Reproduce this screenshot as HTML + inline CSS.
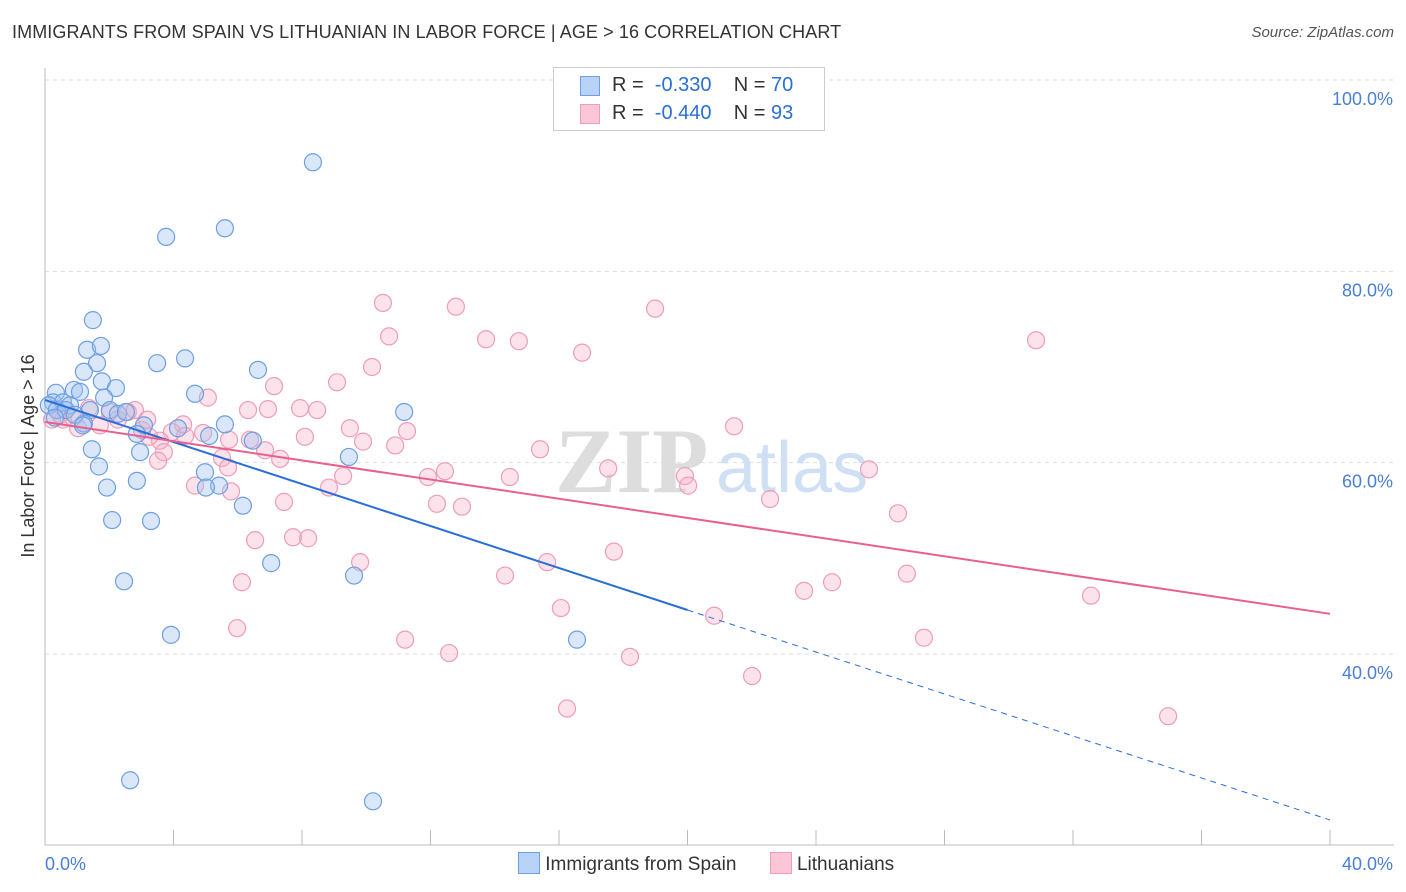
<!DOCTYPE html>
<html><head><meta charset="utf-8"><style>
body{margin:0;background:#fff;font-family:"Liberation Sans",sans-serif;}
#wrap{position:relative;width:1406px;height:892px;overflow:hidden}
</style></head><body>
<div id="wrap">
<div style="position:absolute;left:12px;top:22px;font-size:18px;color:#333;letter-spacing:0.1px">IMMIGRANTS FROM SPAIN VS LITHUANIAN IN LABOR FORCE | AGE &gt; 16 CORRELATION CHART</div>
<div style="position:absolute;right:12px;top:24px;font-size:15px;color:#555;font-style:italic">Source: ZipAtlas.com</div>
<svg id="svg" width="1406" height="892" style="position:absolute;left:0;top:0"></svg>
</div>
<script>
const blueX=[8.34,3.77,5.60,1.49,1.31,1.74,1.62,3.49,4.36,1.21,1.77,2.21,0.90,1.09,0.34,4.67,6.63,1.84,0.25,0.56,0.78,0.12,0.37,0.65,1.40,2.02,2.27,2.52,0.31,1.21,3.08,4.14,5.60,5.11,11.18,2.86,6.47,1.46,2.96,9.46,1.68,4.98,5.42,5.01,1.93,2.86,6.16,2.09,3.30,7.04,9.62,2.46,3.92,16.56,2.65,10.21,0.93,1.18];
const blueY=[91.4,83.6,84.5,74.9,71.8,72.2,70.4,70.4,70.9,69.5,68.5,67.8,67.6,67.4,67.3,67.2,69.7,66.8,66.3,66.3,66.0,66.0,65.5,65.5,65.5,65.5,65.1,65.3,64.7,64.1,63.9,63.6,64.0,62.8,65.3,63.0,62.3,61.4,61.1,60.6,59.6,59.0,57.6,57.4,57.4,58.1,55.5,54.0,53.9,49.5,48.2,47.6,42.0,41.5,26.8,24.6,65.0,63.9];
const pinkX=[10.52,12.79,18.99,30.85,13.73,14.75,10.71,16.72,10.18,9.09,7.13,5.07,6.32,6.94,7.94,8.47,0.56,2.02,2.58,1.37,0.47,0.87,4.30,3.95,4.92,5.73,6.38,3.58,8.09,9.49,11.27,9.90,10.90,15.41,21.45,3.24,4.36,5.51,6.85,7.32,3.70,3.52,5.70,12.45,11.92,14.47,17.53,19.92,20.02,25.65,8.84,9.28,4.67,5.79,7.44,22.57,12.20,12.98,26.55,7.72,8.19,6.54,9.81,15.63,17.71,14.32,6.13,24.50,26.83,32.56,23.63,16.06,20.83,5.98,11.21,12.58,27.36,18.21,22.01,16.25,34.96,2.80,1.71,2.27,0.22,1.03,3.02,3.18];
const pinkY=[76.7,76.3,76.1,72.8,72.9,72.7,73.2,71.5,70.0,68.4,68.0,66.8,65.5,65.6,65.7,65.5,64.5,65.3,65.3,65.7,65.0,64.7,64.0,63.2,63.1,62.4,62.4,62.3,62.7,63.6,63.3,62.2,61.8,61.4,63.8,62.7,62.8,60.5,61.3,60.4,61.1,60.2,59.5,59.1,58.5,58.5,59.4,58.6,57.6,59.3,57.4,58.6,57.6,57.0,55.9,56.2,55.7,55.4,54.7,52.2,52.1,51.9,49.6,49.6,50.7,48.2,47.5,47.5,48.4,46.1,46.6,44.8,44.0,42.7,41.5,40.1,41.7,39.7,37.7,34.3,33.5,65.5,63.9,64.5,64.5,63.6,63.4,64.5];
const blueLine=[66.55,22.65]; // y at x=0 and x=40
const pinkLine=[64.25,44.2];
const yTicks=[40,60,80,100];
const xTickLabels=["0.0%","40.0%"];

const NS="http://www.w3.org/2000/svg",svg=document.getElementById('svg');
const X=v=>45+v*1285/40, Y=v=>80+(100-v)*574/60;
function mk(t,a){const e=document.createElementNS(NS,t);for(const k in a)e.setAttribute(k,a[k]);svg.appendChild(e);return e;}
// gridlines
for(const t of yTicks){
 const g=mk('line',{x1:45,x2:1394,y1:Y(t),y2:Y(t),stroke:'#ddd','stroke-dasharray':'4,4'});
 
 
 const l=mk('text',{x:1393,y:Y(t)+25,'text-anchor':'end','font-size':18,fill:'#4a7fd6'});
 l.textContent=t.toFixed(1)+'%';
 
 
}
const ax=mk('line',{x1:45,x2:45,y1:68,y2:845,stroke:'#bbb'});


const bx=mk('line',{x1:45,x2:1394,y1:845,y2:845,stroke:'#bbb'});


for(let i=0;i<=10;i++){const tk=mk('line',{x1:X(i*4),x2:X(i*4),y1:830,y2:845,stroke:'#bbb'});
 
 }
const xl0=mk('text',{x:45,y:870,'font-size':18,fill:'#4a7fd6'});xl0.textContent=xTickLabels[0];


const xl1=mk('text',{x:1393,y:870,'text-anchor':'end','font-size':18,fill:'#4a7fd6'});xl1.textContent=xTickLabels[1];


const yt=mk('text',{x:0,y:0,transform:'translate(34,456) rotate(-90)','text-anchor':'middle','font-size':18,fill:'#333'});yt.textContent='In Labor Force | Age > 16';


// watermark
const wm=mk('text',{x:555,y:492,'font-size':92,fill:'#ddd','font-family':'Liberation Serif','font-weight':'bold'});wm.textContent='ZIP';


const wm2=mk('text',{x:716,y:492,'font-size':72,fill:'#cfe0f5'});wm2.textContent='atlas';


// points
for(let i=0;i<pinkX.length;i++){const c=mk('circle',{cx:X(pinkX[i]),cy:Y(pinkY[i]),r:8.5,fill:'rgba(246,175,198,0.35)',stroke:'#ee9cb8','stroke-width':1.2});
 
 }
for(let i=0;i<blueX.length;i++){const c=mk('circle',{cx:X(blueX[i]),cy:Y(blueY[i]),r:8.5,fill:'rgba(160,196,240,0.4)',stroke:'#6d9fe2','stroke-width':1.2});
 
 }
// regression lines
const by=x=>blueLine[0]+(blueLine[1]-blueLine[0])*x/40;
const bl=mk('line',{x1:X(0),y1:Y(by(0)),x2:X(20),y2:Y(by(20)),stroke:'#2a6fd6','stroke-width':2});


const bd=mk('line',{x1:X(20),y1:Y(by(20)),x2:X(40),y2:Y(by(40)),stroke:'#2a6fd6','stroke-width':1,'stroke-dasharray':'6,5'});


const pl=mk('line',{x1:X(0),y1:Y(pinkLine[0]),x2:X(40),y2:Y(pinkLine[1]),stroke:'#e8608e','stroke-width':2});


</script>
<div style="position:absolute;left:553px;top:67px;width:270px;height:62px;border:1px solid #ccc;background:#fff;font-size:20px;color:#333">
 <div style="position:absolute;left:26px;top:8px;width:18px;height:18px;background:#b8d3f5;border:1px solid #6d9fe2"></div>
 <div style="position:absolute;left:58px;top:6px">R = <span style="color:#2a6fd6">&nbsp;-0.330</span>&nbsp;&nbsp;&nbsp;&nbsp;N = <span style="color:#2a6fd6">70</span></div>
 <div style="position:absolute;left:26px;top:36px;width:18px;height:18px;background:#fbc6d6;border:1px solid #ee9cb8"></div>
 <div style="position:absolute;left:58px;top:34px">R = <span style="color:#2a6fd6">&nbsp;-0.440</span>&nbsp;&nbsp;&nbsp;&nbsp;N = <span style="color:#2a6fd6">93</span></div>
</div>
<div style="position:absolute;left:518px;top:852px;font-size:19px;color:#333;white-space:nowrap">
 <span><span style="display:inline-block;width:20px;height:20px;background:#b8d3f5;border:1px solid #6d9fe2;vertical-align:-4px"></span> Immigrants from Spain</span>
 <span style="margin-left:28px"><span style="display:inline-block;width:20px;height:20px;background:#fbc6d6;border:1px solid #ee9cb8;vertical-align:-4px"></span> Lithuanians</span>
</div>
</body></html>
